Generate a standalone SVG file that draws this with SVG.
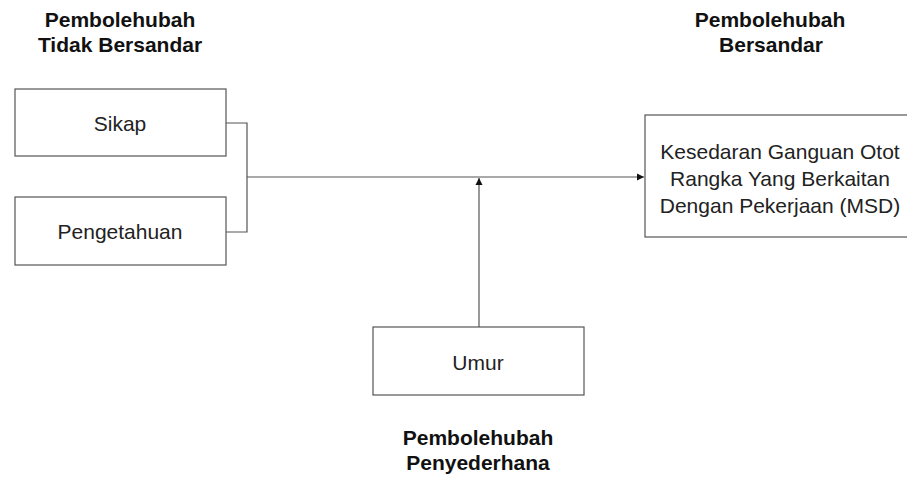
<svg xmlns="http://www.w3.org/2000/svg" width="907" height="477" viewBox="0 0 907 477">
<style>
.box{fill:#fff;stroke:#555;stroke-width:1.2}
.t{font-family:"Liberation Sans",Arial,sans-serif;font-size:21px;fill:#222;text-anchor:middle}
.h{font-family:"Liberation Sans",Arial,sans-serif;font-size:21px;font-weight:bold;fill:#111;text-anchor:middle}
.ln{fill:none;stroke:#555;stroke-width:1.2}
</style>
<defs>
<marker id="ah" markerWidth="8" markerHeight="8" refX="7" refY="4" orient="auto" markerUnits="userSpaceOnUse">
<path d="M0,0.5 L7,4 L0,7.5 Z" fill="#111"/>
</marker>
</defs>
<rect width="907" height="477" fill="#fff"/>
<g id="title-left">
<text class="h" x="120" y="27">Pembolehubah</text>
<text class="h" x="120" y="52">Tidak Bersandar</text>
</g>
<g id="title-right">
<text class="h" x="770" y="27">Pembolehubah</text>
<text class="h" x="771" y="52">Bersandar</text>
</g>
<g id="title-bottom">
<text class="h" x="478" y="445">Pembolehubah</text>
<text class="h" x="478" y="470">Penyederhana</text>
</g>
<g id="connectors">
<path class="ln" d="M226,123 H247 V232 H226"/>
<path class="ln" d="M247,177 H644" marker-end="url(#ah)"/>
<path class="ln" d="M479,327 V178" marker-end="url(#ah)"/>
</g>
<g id="sikap">
<rect class="box" x="15" y="89" width="211" height="67"/>
<text class="t" x="120" y="131">Sikap</text>
</g>
<g id="pengetahuan">
<rect class="box" x="15" y="197" width="211" height="68"/>
<text class="t" x="120" y="239">Pengetahuan</text>
</g>
<g id="msd">
<rect class="box" x="645" y="115" width="265" height="122"/>
<text class="t" x="780" y="159">Kesedaran Ganguan Otot</text>
<text class="t" x="780" y="186">Rangka Yang Berkaitan</text>
<text class="t" x="780" y="213">Dengan Pekerjaan (MSD)</text>
</g>
<g id="umur">
<rect class="box" x="373" y="327" width="211" height="68"/>
<text class="t" x="478" y="370">Umur</text>
</g>
</svg>
